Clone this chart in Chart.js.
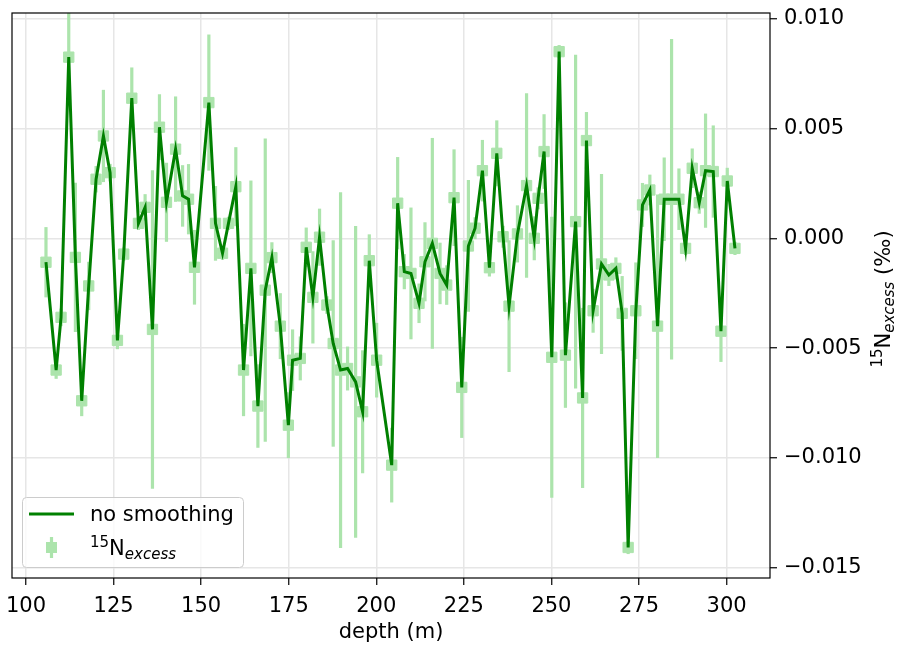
<!DOCTYPE html>
<html>
<head>
<meta charset="utf-8">
<script src="https://cdn.jsdelivr.net/npm/chart.js@4.4.1/dist/chart.umd.min.js"></script>
<style>
  html, body { margin: 0; padding: 0; background: #fff; }
  #grafico { display: block; }
</style>
</head>
<body>
<canvas id="grafico" width="898" height="645"></canvas>
<script>
//Datos
const depth = [105.7, 108.6, 110.0, 112.2, 114.1, 115.9, 117.9, 120.0, 122.1, 124.0,
    126.1, 127.9, 130.2, 132.1, 134.0, 136.1, 138.1, 140.1, 142.7, 144.7,
    146.4, 148.1, 152.2, 154.1, 156.1, 157.8, 159.9, 162.1, 164.2, 166.2,
    168.3, 170.2, 172.6, 174.9, 176.1, 178.3, 180.0, 181.9, 183.8, 185.9,
    187.7, 189.8, 191.8, 194.1, 196.1, 198.0, 200.1, 204.4, 206.1, 208.0,
    209.9, 212.2, 213.9, 216.0, 218.2, 220.1, 222.2, 224.4, 226.3, 228.2,
    230.3, 232.3, 234.4, 236.2, 237.9, 240.3, 242.9, 245.1, 246.2, 247.9,
    250.1, 252.2, 254.0, 256.9, 258.9, 260.0, 261.9, 264.3, 266.4, 268.4,
    270.2, 271.9, 274.1, 276.0, 278.1, 280.3, 282.2, 284.3, 286.4, 288.3,
    290.2, 292.2, 294.0, 296.2, 298.4, 300.2, 302.4];

const n15Excess = [-0.00109, -0.0060, -0.0036, 0.00825, -0.00087, -0.0074, -0.00217, 0.00269, 0.00466, 0.00299,
    -0.00465, -0.00072, 0.00638, 0.00068, 0.00141, -0.00415, 0.00506, 0.00164, 0.00406, 0.00193,
    0.00178, -0.00132, 0.00618, 0.00068, -0.00068, 0.00068, 0.00235, -0.0060, -0.00137, -0.00764,
    -0.00236, -0.00088, -0.0040, -0.00851, -0.00555, -0.00547, -0.00041, -0.00269, 0.00005, -0.00304,
    -0.00479, -0.0060, -0.00593, -0.00654, -0.0079, -0.00102, -0.00555, -0.01033, 0.0016, -0.00152,
    -0.0016, -0.00296, -0.00107, -0.00023, -0.0016, -0.00213, 0.00185, -0.00679, -0.00035, 0.00046,
    0.00308, -0.00134, 0.00387, 0.00007, -0.00309, 0.0002, 0.0024, 0.0, 0.00182, 0.00395,
    -0.00542, 0.0085, -0.00532, 0.00076, -0.00727, 0.00445, -0.0033, -0.00117, -0.00167, -0.00137,
    -0.00342, -0.01408, -0.0033, 0.00152, 0.0022, -0.0040, 0.00178, 0.00178, 0.00178, -0.00046,
    0.00319, 0.00162, 0.00308, 0.00304, -0.00423, 0.00261, -0.00046];

const n15Error = [0.0016, 0.0004, 0.0004, 0.0022, 0.0034, 0.0007, 0.0011, 0.0006, 0.0021, 0.0004,
    0.0004, 0.0003, 0.0014, 0.0003, 0.0006, 0.00725, 0.0015, 0.0018, 0.0024, 0.0014,
    0.0016, 0.0017, 0.0031, 0.0017, 0.0003, 0.0003, 0.0018, 0.0021, 0.0040, 0.0019,
    0.0069, 0.0007, 0.0015, 0.0015, 0.0014, 0.0010, 0.0009, 0.0021, 0.0013, 0.0004,
    0.0047, 0.0081, 0.0010, 0.0071, 0.0028, 0.0012, 0.0017, 0.0017, 0.0021, 0.0008,
    0.0030, 0.0009, 0.0018, 0.0048, 0.0014, 0.0009, 0.0022, 0.0023, 0.0030, 0.0005,
    0.0014, 0.0004, 0.0015, 0.0005, 0.0030, 0.0013, 0.0042, 0.0010, 0.0005, 0.0017,
    0.0064, 0.0003, 0.0024, 0.0076, 0.0041, 0.0013, 0.0010, 0.0041, 0.0005, 0.0005,
    0.0017, 0.0003, 0.0022, 0.0010, 0.0007, 0.0060, 0.0019, 0.0073, 0.0014, 0.0003,
    0.0009, 0.0005, 0.0026, 0.0021, 0.0014, 0.0006, 0.0003];

const xTicks = [100, 125, 150, 175, 200, 225, 250, 275, 300];
const yTicks = [-0.015, -0.010, -0.005, 0.000, 0.005, 0.010];

//Colores y fuente
const verde = '#008000';
const verdeClaro = '#ace4ac';
const fuente = 'DejaVu Sans';
const tamFuente = 21;

//Barras de error (debajo de los puntos)
const pluginErrorBars = {
    id: 'errorBars',
    beforeDatasetsDraw(chart) {
        const { ctx, chartArea, scales } = chart;
        ctx.save();
        ctx.beginPath();
        ctx.rect(chartArea.left, chartArea.top, chartArea.width, chartArea.height);
        ctx.clip();
        ctx.strokeStyle = verdeClaro;
        ctx.lineWidth = 3.2;
        depth.forEach((d, i) => {
            const px = scales.x.getPixelForValue(d);
            ctx.beginPath();
            ctx.moveTo(px, scales.y.getPixelForValue(n15Excess[i] - n15Error[i]));
            ctx.lineTo(px, scales.y.getPixelForValue(n15Excess[i] + n15Error[i]));
            ctx.stroke();
        });
        ctx.restore();
    }
};

//Marco, leyenda y titulo del eje y
const pluginMarco = {
    id: 'marco',
    afterDatasetsDraw(chart) {
        const { ctx, chartArea } = chart;
        ctx.save();
        ctx.strokeStyle = '#000';
        ctx.lineWidth = 1.2;
        ctx.strokeRect(chartArea.left, chartArea.top, chartArea.width, chartArea.height);
        ctx.restore();
    },
    afterDraw(chart) {
        const { ctx } = chart;
        ctx.save();

        // leyenda
        ctx.beginPath();
        ctx.roundRect(22.5, 497.5, 221, 70, 4);
        ctx.fillStyle = 'rgba(255,255,255,0.8)';
        ctx.fill();
        ctx.strokeStyle = '#cccccc';
        ctx.lineWidth = 1;
        ctx.stroke();

        ctx.strokeStyle = verde;
        ctx.lineWidth = 3;
        ctx.beginPath();
        ctx.moveTo(29, 514);
        ctx.lineTo(74, 514);
        ctx.stroke();

        ctx.strokeStyle = verdeClaro;
        ctx.lineWidth = 3.2;
        ctx.beginPath();
        ctx.moveTo(51.5, 537);
        ctx.lineTo(51.5, 558);
        ctx.stroke();
        ctx.fillStyle = verdeClaro;
        ctx.fillRect(46, 542, 11, 11);

        ctx.fillStyle = '#000';
        ctx.textAlign = 'left';
        ctx.textBaseline = 'alphabetic';
        ctx.font = `${tamFuente}px "${fuente}"`;
        ctx.fillText('no smoothing', 90, 521);

        dibujarEtiqueta(ctx, 90, 555);

        // titulo eje y (rotado)
        ctx.translate(890, 299);
        ctx.rotate(-Math.PI / 2);
        dibujarEtiqueta(ctx, 0, 0, true);
        ctx.restore();
    }
};

// 15N excess con superindice y subindice
function dibujarEtiqueta(ctx, x, base, conUnidad) {
    const partes = [
        { t: '15', f: `15px "${fuente}"`, dy: -8 },
        { t: 'N', f: `${tamFuente}px "${fuente}"`, dy: 0 },
        { t: 'excess', f: `italic 15px "${fuente}"`, dy: 4 }
    ];
    if (conUnidad) partes.push({ t: ' (‰)', f: `${tamFuente}px "${fuente}"`, dy: 0 });
    let total = 0;
    partes.forEach(p => { ctx.font = p.f; p.w = ctx.measureText(p.t).width; total += p.w; });
    let cx = conUnidad ? x - total / 2 : x;
    ctx.fillStyle = '#000';
    ctx.textAlign = 'left';
    ctx.textBaseline = 'alphabetic';
    partes.forEach(p => {
        ctx.font = p.f;
        ctx.fillText(p.t, cx, base + p.dy);
        cx += p.w;
    });
    return total;
}

const datos = {
    datasets: [
        {
            label: 'no smoothing',
            data: depth.map((d, i) => ({ x: d, y: n15Excess[i] })),
            showLine: true,
            borderColor: verde,
            borderWidth: 3,
            pointRadius: 0,
            tension: 0
        },
        {
            label: '15N excess',
            data: depth.map((d, i) => ({ x: d, y: n15Excess[i] })),
            showLine: false,
            pointStyle: 'rect',
            pointRadius: 7.3,
            pointBackgroundColor: verdeClaro,
            pointBorderColor: verdeClaro,
            pointBorderWidth: 1
        }
    ]
};

const config = {
    type: 'scatter',
    data: datos,
    options: {
        responsive: false,
        animation: false,
        layout: { padding: { left: 12, top: 13, right: 0, bottom: 0 } },
        plugins: {
            legend: { display: false },
            tooltip: { enabled: false }
        },
        scales: {
            x: {
                type: 'linear',
                min: 96.0,
                max: 312.4,
                afterBuildTicks: (s) => { s.ticks = xTicks.map(v => ({ value: v })); },
                afterFit: (s) => { s.height = 67; s.paddingLeft = 0; s.paddingRight = 0; },
                border: { display: false },
                grid: { color: '#e6e6e6', lineWidth: 1.5, tickColor: '#000', tickLength: 7, tickWidth: 1.2 },
                ticks: { color: '#000', font: { family: fuente, size: tamFuente }, padding: 9, maxRotation: 0 },
                title: { display: true, text: 'depth (m)', color: '#000', font: { family: fuente, size: tamFuente }, padding: { top: 0, bottom: 0 } }
            },
            y: {
                type: 'linear',
                position: 'right',
                min: -0.01547,
                max: 0.01026,
                afterBuildTicks: (s) => { s.ticks = yTicks.map(v => ({ value: v })); },
                afterFit: (s) => { s.width = 128; s.paddingTop = 0; s.paddingBottom = 0; },
                border: { display: false },
                grid: { color: '#e6e6e6', lineWidth: 1.5, tickColor: '#000', tickLength: 7, tickWidth: 1.2 },
                ticks: {
                    color: '#000',
                    font: { family: fuente, size: tamFuente },
                    padding: 7,
                    callback: (v) => v.toFixed(3).replace('-', '\u2212')
                }
            }
        }
    },
    plugins: [pluginErrorBars, pluginMarco]
};

new Chart(document.querySelector('#grafico'), config);
</script>
</body>
</html>
